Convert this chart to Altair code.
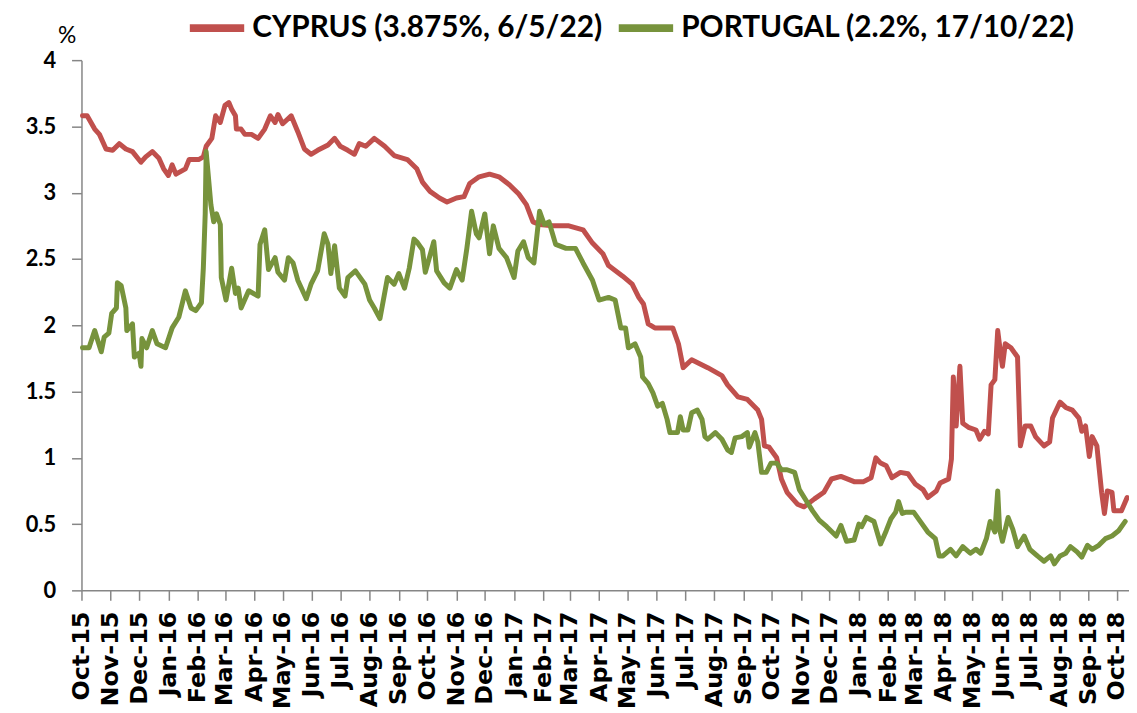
import altair as alt
import pandas as pd

start = "2015-10-01"
cy_label = "CYPRUS (3.875%, 6/5/22)"
pt_label = "PORTUGAL (2.2%, 17/10/22)"

# days since 1 Oct 2015, and yields (%)
cy_day = [1, 6, 14, 19, 26, 33, 40, 47, 54, 63,
          68, 75, 82, 87, 92, 96, 100, 110, 114, 124,
          129, 132, 138, 142, 147, 152, 156, 159, 163, 164,
          169, 173, 180, 187, 194, 200, 205, 208, 213, 222,
          229, 236, 243, 250, 261, 268, 274, 282, 289, 294,
          301, 310, 321, 331, 345, 355, 361, 369, 379, 387,
          397, 405, 411, 421, 432, 442, 453, 463, 471, 478,
          485, 499, 516, 531, 541, 552, 558, 573, 583, 590,
          595, 600, 607, 626, 632, 637, 646, 663, 678, 684,
          695, 705, 716, 720, 723, 728, 736, 741, 747, 758,
          765, 776, 786, 794, 804, 818, 828, 836, 841, 846,
          852, 858, 867, 875, 883, 891, 896, 905, 909, 918,
          921, 923, 926, 930, 933, 939, 947, 951, 956, 960,
          963, 967, 970, 973, 975, 978, 984, 991, 994, 999,
          1005, 1010, 1019, 1025, 1028, 1036, 1042, 1049, 1056, 1059,
          1063, 1067, 1070, 1075, 1080, 1083, 1086, 1091, 1093, 1101,
          1107]
cy_val = [3.58, 3.58, 3.48, 3.44, 3.33, 3.32, 3.37, 3.33, 3.31, 3.23,
          3.27, 3.31, 3.26, 3.18, 3.13, 3.21, 3.14, 3.18, 3.25, 3.25,
          3.27, 3.35, 3.41, 3.58, 3.53, 3.66, 3.68, 3.63, 3.58, 3.48,
          3.48, 3.44, 3.44, 3.41, 3.48, 3.58, 3.53, 3.59, 3.52, 3.58,
          3.46, 3.33, 3.29, 3.32, 3.36, 3.41, 3.35, 3.32, 3.29, 3.37,
          3.35, 3.41, 3.35, 3.28, 3.25, 3.18, 3.08, 3.01, 2.96, 2.93,
          2.96, 2.97, 3.07, 3.12, 3.14, 3.12, 3.06, 2.99, 2.91, 2.78,
          2.76, 2.75, 2.75, 2.72, 2.62, 2.54, 2.45, 2.37, 2.31, 2.21,
          2.16, 2.01, 1.98, 1.98, 1.86, 1.68, 1.74, 1.68, 1.62, 1.55,
          1.46, 1.44, 1.36, 1.29, 1.09, 1.08, 1.00, 0.84, 0.74, 0.65,
          0.63, 0.69, 0.74, 0.84, 0.86, 0.82, 0.82, 0.85, 1.00, 0.96,
          0.94, 0.85, 0.89, 0.88, 0.80, 0.76, 0.70, 0.75, 0.81, 0.84,
          0.99, 1.61, 1.24, 1.69, 1.26, 1.23, 1.21, 1.14, 1.20, 1.18,
          1.55, 1.59, 1.96, 1.79, 1.69, 1.86, 1.83, 1.76, 1.09, 1.24,
          1.24, 1.16, 1.09, 1.12, 1.30, 1.42, 1.38, 1.36, 1.30, 1.20,
          1.24, 1.01, 1.16, 1.09, 0.74, 0.58, 0.75, 0.74, 0.60, 0.60,
          0.70]

pt_day = [1, 8, 14, 17, 21, 24, 29, 32, 37, 38,
          42, 47, 48, 54, 56, 61, 63, 64, 69, 75,
          80, 89, 96, 103, 110, 116, 121, 127, 129, 131,
          132, 137, 140, 143, 147, 148, 153, 159, 163, 166,
          169, 177, 187, 189, 194, 198, 205, 208, 215, 219,
          224, 229, 238, 243, 250, 257, 261, 264, 268, 273,
          279, 282, 290, 300, 305, 310, 316, 324, 331, 336,
          342, 347, 352, 355, 361, 364, 373, 376, 384, 390,
          397, 403, 408, 413, 418, 421, 427, 432, 436, 442,
          450, 458, 462, 468, 473, 479, 485, 490, 495, 502,
          513, 523, 531, 541, 548, 558, 565, 571, 576, 579,
          586, 592, 594, 600, 605, 610, 615, 620, 623, 631,
          634, 637, 642, 646, 652, 657, 660, 663, 671, 678,
          684, 688, 692, 699, 705, 707, 713, 716, 720, 725,
          730, 736, 741, 747, 755, 760, 767, 774, 781, 789,
          799, 804, 810, 818, 823, 826, 831, 839, 846, 852,
          857, 862, 865, 869, 873, 881, 888, 896, 904, 908,
          912, 920, 926, 933, 941, 947, 952, 958, 962, 967,
          970, 972, 975, 981, 986, 991, 998, 1004, 1012, 1019,
          1026, 1030, 1036, 1042, 1047, 1054, 1059, 1065, 1070, 1077,
          1084, 1091, 1098, 1105]
pt_val = [1.83, 1.83, 1.96, 1.89, 1.80, 1.91, 1.94, 2.09, 2.13, 2.32,
          2.30, 2.13, 1.96, 2.01, 1.76, 1.79, 1.69, 1.90, 1.83, 1.96,
          1.86, 1.83, 1.98, 2.06, 2.26, 2.13, 2.11, 2.17, 2.43, 2.84,
          3.31, 2.91, 2.78, 2.84, 2.76, 2.36, 2.19, 2.43, 2.24, 2.28,
          2.13, 2.26, 2.22, 2.61, 2.72, 2.42, 2.51, 2.40, 2.34, 2.51,
          2.47, 2.34, 2.20, 2.31, 2.41, 2.69, 2.61, 2.39, 2.60, 2.28,
          2.22, 2.36, 2.41, 2.31, 2.19, 2.13, 2.05, 2.36, 2.31, 2.39,
          2.28, 2.43, 2.65, 2.63, 2.57, 2.40, 2.63, 2.41, 2.32, 2.28,
          2.42, 2.34, 2.58, 2.86, 2.69, 2.66, 2.84, 2.54, 2.75, 2.58,
          2.51, 2.36, 2.56, 2.63, 2.51, 2.47, 2.86, 2.76, 2.78, 2.61,
          2.58, 2.58, 2.47, 2.34, 2.19, 2.21, 2.19, 1.98, 1.98, 1.83,
          1.86, 1.76, 1.61, 1.56, 1.49, 1.39, 1.41, 1.29, 1.19, 1.19,
          1.31, 1.21, 1.21, 1.34, 1.36, 1.29, 1.16, 1.14, 1.19, 1.14,
          1.06, 1.04, 1.15, 1.16, 1.19, 1.08, 1.19, 1.12, 0.89, 0.89,
          0.96, 0.96, 0.91, 0.91, 0.89, 0.76, 0.68, 0.60, 0.53, 0.48,
          0.41, 0.49, 0.37, 0.38, 0.50, 0.48, 0.55, 0.52, 0.35, 0.45,
          0.54, 0.59, 0.67, 0.58, 0.59, 0.59, 0.52, 0.44, 0.39, 0.26,
          0.26, 0.31, 0.26, 0.33, 0.28, 0.31, 0.28, 0.39, 0.52, 0.44,
          0.75, 0.46, 0.37, 0.55, 0.46, 0.33, 0.41, 0.31, 0.26, 0.22,
          0.26, 0.20, 0.26, 0.28, 0.33, 0.29, 0.25, 0.34, 0.31, 0.34,
          0.39, 0.41, 0.45, 0.52]

y_ticks = [0, 0.5, 1, 1.5, 2, 2.5, 3, 3.5, 4]
colors = ["#C0504D", "#77933C"]

t0 = pd.Timestamp(start)
df = pd.concat([
    pd.DataFrame({"date": t0 + pd.to_timedelta(cy_day, unit="D"),
                  "value": cy_val, "series": cy_label}),
    pd.DataFrame({"date": t0 + pd.to_timedelta(pt_day, unit="D"),
                  "value": pt_val, "series": pt_label}),
], ignore_index=True)
df["date"] = df["date"].dt.strftime("%Y-%m-%dT00:00:00")

axis_grey = "#868686"

chart = alt.Chart(df).mark_line(
    strokeWidth=5, strokeJoin="round", strokeCap="round"
).encode(
    x=alt.X("date:T",
            scale=alt.Scale(domain=[alt.DateTime(year=2015, month=10, date=1),
                                    alt.DateTime(year=2018, month=10, date=14)],
                            nice=False),
            axis=alt.Axis(title=None, format="%b-%y",
                          tickCount={"interval": "month", "step": 1},
                          labelAngle=270, labelOverlap=False, labelFlush=False,
                          labelFont="DejaVu Sans", labelFontSize=24,
                          labelFontWeight="bold", labelColor="black",
                          labelPadding=11, tickSize=10, tickColor=axis_grey,
                          domainColor=axis_grey, domainWidth=1.5, tickWidth=1.5,
                          grid=False)),
    y=alt.Y("value:Q",
            scale=alt.Scale(domain=[0, 4], nice=False),
            axis=alt.Axis(values=y_ticks, format="~g", grid=False,
                          labelFont="Lato", labelFontSize=22,
                          labelFontWeight="bold", labelColor="black",
                          labelPadding=16, tickSize=10, tickColor=axis_grey,
                          domainColor=axis_grey, domainWidth=1.5, tickWidth=1.5,
                          title="%", titleAngle=0, titleX=-15, titleY=-25,
                          titleAlign="center", titleBaseline="middle",
                          titleFont="Lato", titleFontSize=23,
                          titleFontWeight="normal", titleColor="black")),
    color=alt.Color("series:N",
                    scale=alt.Scale(domain=[cy_label, pt_label], range=colors),
                    legend=alt.Legend(title=None, orient="none",
                                      legendX=105, legendY=-64,
                                      direction="horizontal",
                                      symbolType="stroke", symbolSize=3000,
                                      symbolStrokeWidth=8,
                                      labelFont="Lato", labelFontSize=30,
                                      labelFontWeight="bold", labelColor="black",
                                      labelOffset=4, columnPadding=0,
                                      padding=0, labelLimit=1000)),
).properties(
    width=1055, height=534,
    padding={"left": 74, "top": 50, "right": 0, "bottom": 121},
    autosize=alt.AutoSizeParams(type="none"),
).configure_view(strokeWidth=0)

chart.save("out.html", embed_options={"renderer": "svg", "actions": False})
